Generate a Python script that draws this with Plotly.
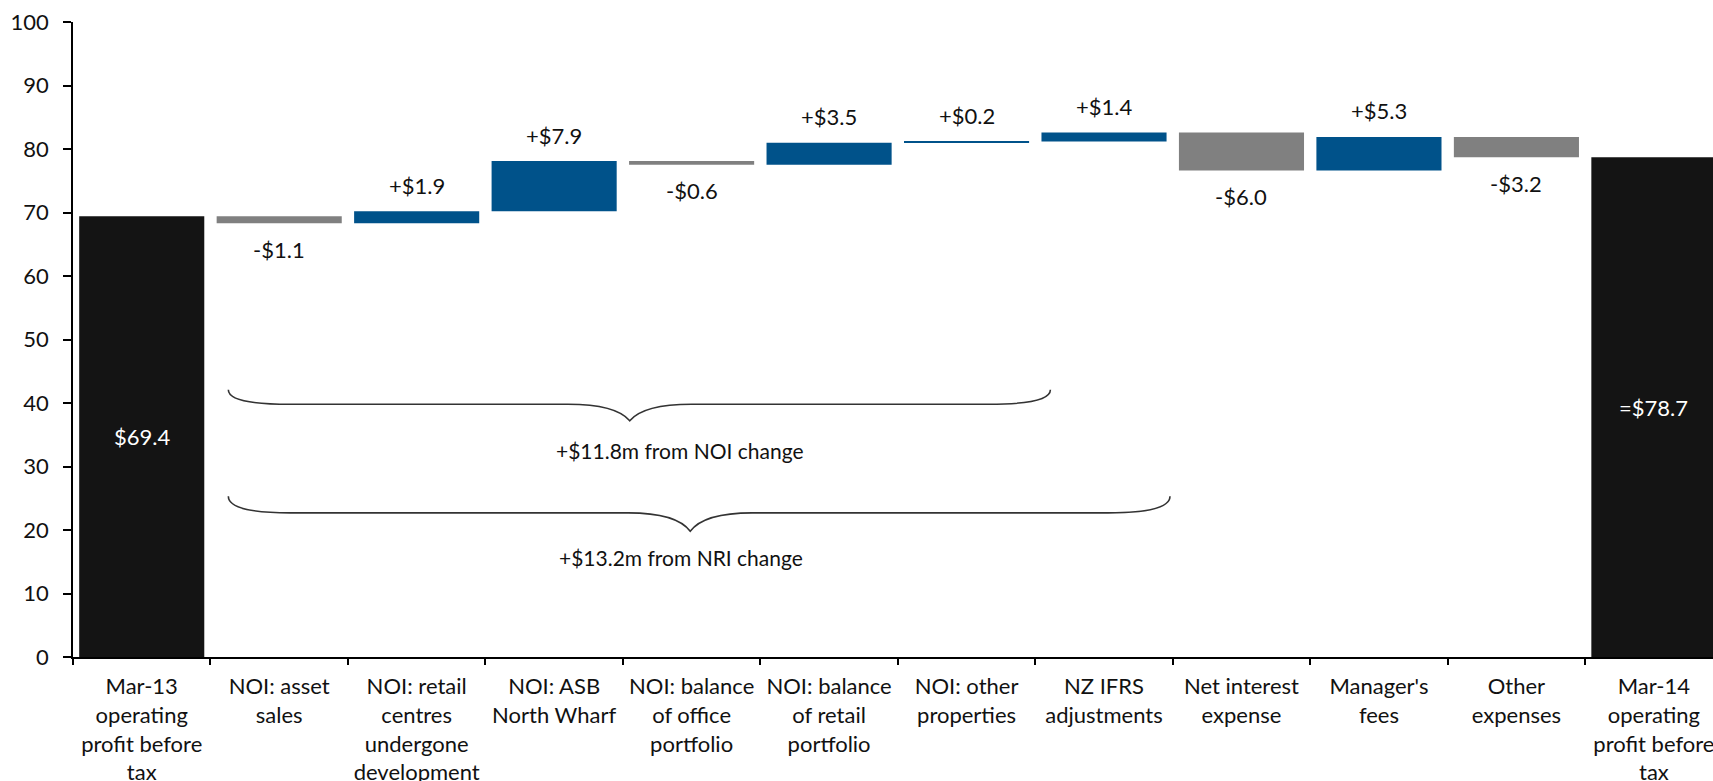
import numpy as np
import plotly.graph_objects as go

# Operating profit bridge, Mar-13 to Mar-14 ($m)
categories = [
    "Mar-13<br>operating<br>profit before<br>tax",
    "NOI: asset<br>sales",
    "NOI: retail<br>centres<br>undergone<br>development",
    "NOI: ASB<br>North Wharf",
    "NOI: balance<br>of office<br>portfolio",
    "NOI: balance<br>of retail<br>portfolio",
    "NOI: other<br>properties",
    "NZ IFRS<br>adjustments",
    "Net interest<br>expense",
    "Manager's<br>fees",
    "Other<br>expenses",
    "Mar-14<br>operating<br>profit before<br>tax",
]
start_value = 69.4
changes = [-1.1, 1.9, 7.9, -0.6, 3.5, 0.2, 1.4, -6.0, 5.3, -3.2]
end_value = 78.7

# Brace groupings: (label, left index, right index, tip index, end y, line y, tip y, text x, text y)
brace_groups = [
    ("+$11.8m from NOI change", 0.63, 6.61, 3.55, 42.1, 39.8, 37.2, 3.91, 32.5),
    ("+$13.2m from NRI change", 0.63, 7.48, 3.99, 25.3, 22.7, 19.8, 3.92, 15.6),
]

BLUE = "#00528A"
GREY = "#808080"
BLACK = "#141414"
FONT = "Lato, 'Open Sans', sans-serif"

measures = ["absolute"] + ["relative"] * len(changes) + ["total"]
y_vals = [start_value] + changes + [end_value]

fig = go.Figure(
    go.Waterfall(
        x=categories,
        y=y_vals,
        measure=measures,
        width=0.91,
        increasing=dict(marker=dict(color=BLUE, line=dict(width=0))),
        decreasing=dict(marker=dict(color=GREY, line=dict(width=0))),
        totals=dict(marker=dict(color=BLACK, line=dict(width=0))),
        connector=dict(visible=False),
        textinfo="none",
        hoverinfo="skip",
    )
)

annotations = []
# change labels above (gains) or below (losses) each floating bar
running = np.cumsum([start_value] + changes)
for i, delta in enumerate(changes, start=1):
    after = running[i]
    if delta >= 0:
        annotations.append(dict(x=i, y=after, yshift=26, text=f"+${delta:.1f}",
                                showarrow=False, yanchor="middle",
                                font=dict(size=22, color="#111111", family=FONT)))
    else:
        annotations.append(dict(x=i, y=after, yshift=-26, text=f"-${abs(delta):.1f}",
                                showarrow=False, yanchor="middle",
                                font=dict(size=22, color="#111111", family=FONT)))

# totals labelled inside their bars
annotations.append(dict(x=0, y=start_value / 2, text=f"${start_value:.1f}", showarrow=False,
                        font=dict(size=22, color="white", family=FONT)))
annotations.append(dict(x=len(categories) - 1, y=end_value / 2, text=f"=${end_value:.1f}",
                        showarrow=False, font=dict(size=22, color="white", family=FONT)))

shapes = []
for label, x0, x1, xt, y_end, y_line, y_tip, tx, ty in brace_groups:
    dx = 0.45
    path = (
        f"M {x0},{y_end} Q {x0},{y_line} {x0 + dx},{y_line} "
        f"L {xt - dx},{y_line} Q {xt - 0.1},{y_line} {xt},{y_tip} "
        f"Q {xt + 0.1},{y_line} {xt + dx},{y_line} "
        f"L {x1 - dx},{y_line} Q {x1},{y_line} {x1},{y_end}"
    )
    shapes.append(dict(type="path", path=path, xref="x", yref="y",
                       line=dict(color="#333333", width=1.6)))
    annotations.append(dict(x=tx, y=ty, text=label, showarrow=False,
                            font=dict(size=21, color="#111111", family=FONT)))

fig.update_layout(
    width=1713,
    height=781,
    margin=dict(l=73, r=0, t=22, b=124),
    paper_bgcolor="white",
    plot_bgcolor="white",
    showlegend=False,
    font=dict(family=FONT, color="#111111"),
    annotations=annotations,
    shapes=shapes,
)

fig.update_xaxes(
    type="category",
    range=[-0.5, 11.43],
    tickson="boundaries",
    ticks="outside",
    ticklen=6,
    tickwidth=2,
    tickcolor="black",
    showline=True,
    linecolor="black",
    linewidth=2,
    showgrid=False,
    tickangle=0,
    automargin=False,
    ticklabelstandoff=9,
    tickfont=dict(size=22, family=FONT, color="#111111"),
    fixedrange=True,
)
fig.update_yaxes(
    range=[0, 100],
    tickvals=list(range(0, 101, 10)),
    ticks="outside",
    ticklen=8,
    tickwidth=1.5,
    tickcolor="black",
    showline=True,
    linecolor="black",
    linewidth=1.5,
    showgrid=False,
    zeroline=False,
    automargin=False,
    ticklabelstandoff=10,
    tickfont=dict(size=22, family=FONT, color="#111111"),
    fixedrange=True,
)

fig.write_html("out.html")
